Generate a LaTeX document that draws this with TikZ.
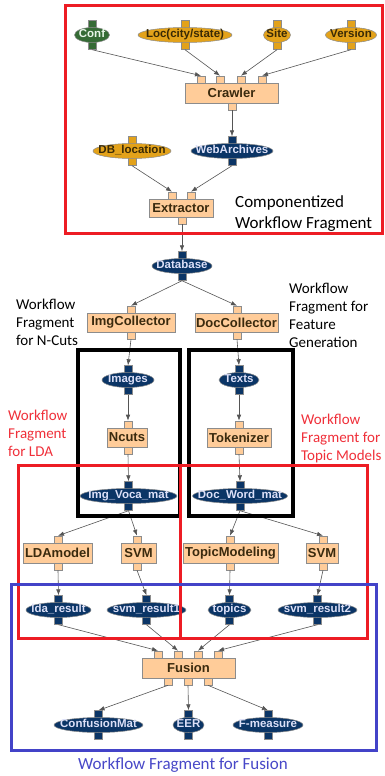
\documentclass[tikz,border=0pt]{standalone}
\usepackage{fontspec}
\usetikzlibrary{shapes.geometric,arrows.meta}
\newfontfamily\labfont{Liberation Sans}
\newfontfamily\notefont{Carlito}
\definecolor{boxfill}{HTML}{FFCC99}
\definecolor{boxborder}{HTML}{8C8C8C}
\definecolor{boxtext}{HTML}{3A2A0E}
\definecolor{navyfill}{HTML}{0B3566}
\definecolor{navytext}{HTML}{DCE0F8}
\definecolor{goldfill}{HTML}{E3A21A}
\definecolor{goldtext}{HTML}{3A2A05}
\definecolor{greenfill}{HTML}{356B35}
\definecolor{greentext}{HTML}{E8F5E8}
\definecolor{connline}{HTML}{555555}
\definecolor{framered}{HTML}{ED1C24}
\definecolor{frameblue}{HTML}{4343C8}
\definecolor{notered}{HTML}{F0303A}
\definecolor{noteblue}{HTML}{4848C8}
\tikzset{
  wfbox/.style={rectangle, draw=boxborder, line width=0.8pt, fill=boxfill, text=boxtext,
    font=\labfont\bfseries\fontsize{13}{15}\selectfont, minimum height=20pt, inner sep=0pt},
  bport/.style={rectangle, draw=boxborder, line width=0.6pt, fill=boxfill, minimum width=8pt, minimum height=7pt, inner sep=0pt},
  eport/.style={rectangle, draw=boxborder, line width=0.4pt, minimum width=8pt, minimum height=9pt, inner sep=0pt},
  wfell/.style={ellipse, draw=boxborder, line width=0.5pt, minimum height=15pt, inner sep=0pt,
    font=\labfont\bfseries\fontsize{11.5}{13}\selectfont, text height=8pt, text depth=2.5pt},
  conn/.style={draw=connline, line width=0.6pt, -{Latex[length=6pt,width=4.5pt]}},
  note/.style={inner sep=0pt, align=left, font=\notefont\fontsize{15}{18}\selectfont},
  frame/.style={line width=3pt},
}
\newcommand{\wfellnode}[6]{%
  \node[eport, fill=#1fill] (#2-t) at (#3,#4-10) {};
  \node[eport, fill=#1fill] (#2-b) at (#3,#4+10) {};
  \node[wfell, fill=#1fill, text=#1text, minimum width=#5pt] (#2) at (#3,#4) {\makebox[0pt]{#6}};}
\begin{document}
\begin{tikzpicture}[x=1pt,y=-1pt]
\useasboundingbox[fill=white] (0,0) rectangle (385,776);

% ---------- top fragment ----------
\wfellnode{green}{conf}{92}{35}{35}{Conf}
\wfellnode{gold}{loc}{185}{35}{94}{Loc(city/state)}
\wfellnode{gold}{site}{277}{35}{27}{Site}
\wfellnode{gold}{version}{351}{35}{51}{Version}

\node[bport] (crawler-i1) at (201,79.5) {};
\node[bport] (crawler-i2) at (220,79.5) {};
\node[bport] (crawler-i3) at (241,79.5) {};
\node[bport] (crawler-i4) at (262,79.5) {};
\node[bport] (crawler-o) at (232,106.5) {};
\node[wfbox, minimum width=93pt] (crawler) at (231.5,93) {Crawler};

\wfellnode{gold}{dbloc}{132}{151}{78}{DB\_location}
\wfellnode{navy}{web}{232}{151}{82}{WebArchives}

\node[bport] (extractor-i1) at (172,195.5) {};
\node[bport] (extractor-i2) at (191,195.5) {};
\node[bport] (extractor-o) at (182,220.5) {};
\node[wfbox, minimum width=64pt, minimum height=18pt] (extractor) at (181,208) {Extractor};

\wfellnode{navy}{database}{182}{266}{60}{Database}

% ---------- collectors ----------
\node[bport] (imgcol-i) at (131,309.5) {};
\node[bport] (imgcol-o) at (131,335.5) {};
\node[wfbox, minimum width=88pt, minimum height=19pt] (imgcol) at (131,322.5) {ImgCollector};
\node[bport] (doccol-i) at (237,309.5) {};
\node[bport] (doccol-o) at (237,335.5) {};
\node[wfbox, minimum width=83pt, minimum height=19pt] (doccol) at (236.5,322.5) {DocCollector};

\wfellnode{navy}{images}{128}{380}{52}{Images}
\wfellnode{navy}{texts}{239}{380}{40}{Texts}

\node[bport] (ncuts-i) at (128,424.5) {};
\node[bport] (ncuts-o) at (128,450.5) {};
\node[wfbox, minimum width=40pt, minimum height=19pt] (ncuts) at (127,437.5) {Ncuts};
\node[bport] (tok-i) at (239,424.5) {};
\node[bport] (tok-o) at (239,450.5) {};
\node[wfbox, minimum width=64pt, minimum height=19pt] (tok) at (239,437.5) {Tokenizer};

\wfellnode{navy}{ivm}{128.5}{496}{97}{Img\_Voca\_mat}
\wfellnode{navy}{dwm}{240}{496}{95}{Doc\_Word\_mat}

% ---------- models ----------
\node[bport] (lda-i) at (58,539.5) {};
\node[bport] (lda-o) at (58,566.5) {};
\node[wfbox, minimum width=69pt] (lda) at (57.5,553) {LDAmodel};
\node[bport] (svma-i) at (137,539.5) {};
\node[bport] (svma-o) at (137,566.5) {};
\node[wfbox, minimum width=35pt] (svma) at (138.5,553) {SVM};
\node[bport] (topic-i) at (230,539.5) {};
\node[bport] (topic-o) at (230,566.5) {};
\node[wfbox, minimum width=95pt] (topic) at (230.5,553) {TopicModeling};
\node[bport] (svmb-i) at (323,539.5) {};
\node[bport] (svmb-o) at (323,566.5) {};
\node[wfbox, minimum width=32pt] (svmb) at (322,553) {SVM};

\wfellnode{navy}{ldar}{58.5}{610}{65}{lda\_result}
\wfellnode{navy}{svmra}{146.5}{610}{79}{svm\_result1}
\wfellnode{navy}{topics}{229.5}{610}{43}{topics}
\wfellnode{navy}{svmrb}{317.5}{610}{79}{svm\_result2}

% ---------- fusion ----------
\node[bport] (fusion-i1) at (158,654.5) {};
\node[bport] (fusion-i2) at (178,654.5) {};
\node[bport] (fusion-i3) at (198,654.5) {};
\node[bport] (fusion-i4) at (218,654.5) {};
\node[bport] (fusion-o1) at (168,681.5) {};
\node[bport] (fusion-o2) at (188,681.5) {};
\node[bport] (fusion-o3) at (208,681.5) {};
\node[wfbox, minimum width=93pt] (fusion) at (188.5,668) {Fusion};

\wfellnode{navy}{confmat}{98.5}{725}{89}{ConfusionMat}
\wfellnode{navy}{eer}{188.5}{725}{31}{EER}
\wfellnode{navy}{fmeas}{268}{725}{70}{F-measure}

% ---------- connectors ----------
\draw[conn] (conf-b.south) -- (crawler-i1.north);
\draw[conn] (loc-b.south) -- (crawler-i2.north);
\draw[conn] (site-b.south) -- (crawler-i3.north);
\draw[conn] (version-b.south) -- (crawler-i4.north);
\draw[conn] (crawler-o.south) -- (web-t.north);
\draw[conn] (dbloc-b.south) -- (extractor-i1.north);
\draw[conn] (web-b.south) -- (extractor-i2.north);
\draw[conn] (extractor-o.south) -- (database-t.north);
\draw[conn] (database-b.south) -- (imgcol-i.north);
\draw[conn] (database-b.south) -- (doccol-i.north);
\draw[conn] (imgcol-o.south) -- (images-t.north);
\draw[conn] (doccol-o.south) -- (texts-t.north);
\draw[conn] (images-b.south) -- (ncuts-i.north);
\draw[conn] (texts-b.south) -- (tok-i.north);
\draw[conn] (ncuts-o.south) -- (ivm-t.north);
\draw[conn] (tok-o.south) -- (dwm-t.north);
\draw[conn] (ivm-b.south) -- (lda-i.north);
\draw[conn] (ivm-b.south) -- (svma-i.north);
\draw[conn] (dwm-b.south) -- (topic-i.north);
\draw[conn] (dwm-b.south) -- (svmb-i.north);
\draw[conn] (lda-o.south) -- (ldar-t.north);
\draw[conn] (svma-o.south) -- (svmra-t.north);
\draw[conn] (topic-o.south) -- (topics-t.north);
\draw[conn] (svmb-o.south) -- (svmrb-t.north);
\draw[conn] (ldar-b.south) -- (fusion-i1.north);
\draw[conn] (svmra-b.south) -- (fusion-i2.north);
\draw[conn] (topics-b.south) -- (fusion-i3.north);
\draw[conn] (svmrb-b.south) -- (fusion-i4.north);
\draw[conn] (fusion-o1.south) -- (confmat-t.north);
\draw[conn] (fusion-o2.south) -- (eer-t.north);
\draw[conn] (fusion-o3.south) -- (fmeas-t.north);

% ---------- frames ----------
\draw[frame, line width=3.5pt, black] (78,350) rectangle (180,516);
\draw[frame, line width=3.5pt, black] (189,350) rectangle (293,516);
\draw[frame, framered] (65,6) rectangle (382,233);
\draw[frame, framered] (18,465) rectangle (180,638);
\draw[frame, framered] (180,465) rectangle (367,638);
\draw[frame, frameblue] (11,584) rectangle (376,750);

% ---------- notes ----------
\node[note, anchor=north west, font=\notefont\fontsize{17}{21.5}\selectfont] (compnote) at (235,195) {Componentized\\Workflow Fragment};
\node[note, anchor=north west] (ncutnote) at (16,298.5) {Workflow\\Fragment\\for N-Cuts};
\node[note, anchor=north west] (featnote) at (289,283) {Workflow\\Fragment for\\Feature\\Generation};
\node[note, anchor=north west, text=notered] (ldanote) at (8,410) {Workflow\\Fragment\\for LDA};
\node[note, anchor=north west, text=notered] (topicnote) at (301,414) {Workflow\\Fragment for\\Topic Models};
\node[note, anchor=base, text=noteblue, font=\notefont\fontsize{17}{21}\selectfont] (fusionnote) at (183,769.5) {Workflow Fragment for Fusion};
\end{tikzpicture}
\end{document}
